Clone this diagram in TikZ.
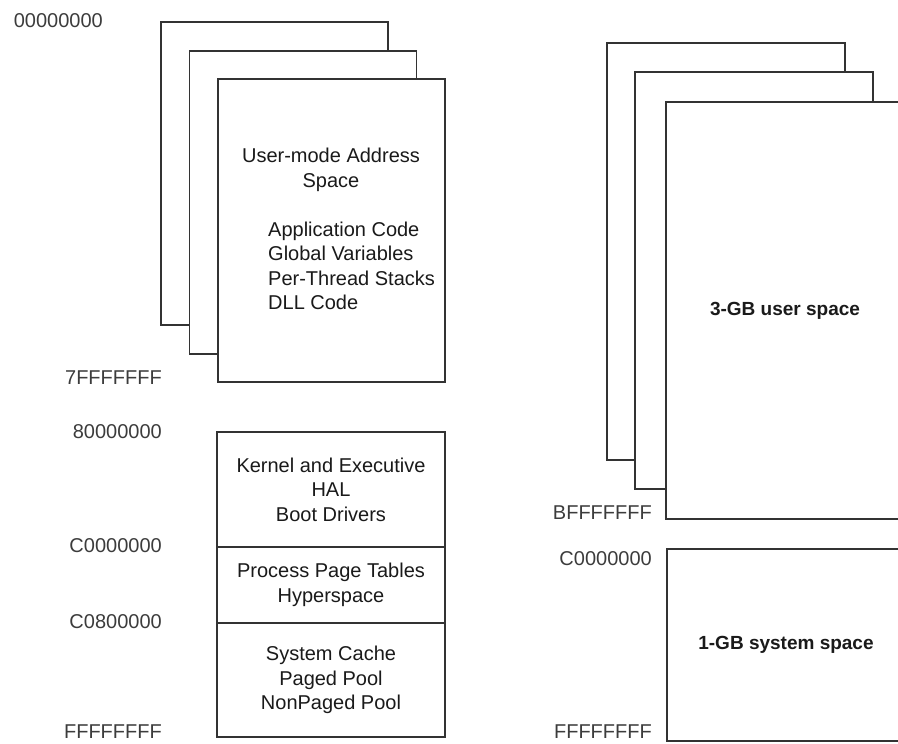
\documentclass[tikz,border=0pt]{standalone}
\usepackage{fontspec}
\setmainfont{Liberation Sans}
\usetikzlibrary{positioning}
\definecolor{edgegray}{HTML}{333333}
\definecolor{addrgray}{HTML}{3C3C3C}
\definecolor{textgray}{HTML}{1A1A1A}
\tikzset{
  page/.style={draw=edgegray, line width=1.8pt, fill=white, inner sep=0pt, outer sep=0pt, align=center, text=textgray, font=\fontsize{20}{24.5}\selectfont},
  lpage/.style={page, minimum width=227pt, minimum height=303pt},
  rpage/.style={page, minimum width=238pt, minimum height=417pt, font=\fontsize{19}{23}\selectfont\bfseries},
  band/.style={page, minimum width=228pt},
  boxtext/.style={inner sep=0pt, text=textgray, font=\fontsize{20}{24.5}\selectfont},
  addr/.style={inner sep=0pt, anchor=east, text=addrgray, font=\fontsize{20}{24}\selectfont}
}
\begin{document}
\begin{tikzpicture}[x=1pt, y=-1pt]
  \useasboundingbox (0,0) rectangle (898,744);
  \clip (0,0) rectangle (898,744);
  % user-mode address space, one page per process
  \node[lpage, anchor=north west] (lback) at (161,22) {};
  \node[lpage, below right=29pt and 28.5pt of lback.north west] (lmid) {};
  \node[lpage, below right=28pt and 28.5pt of lmid.north west] (lfront) {};
  \node[boxtext, align=center] (utitle) at (331,170) {User-mode Address\\Space};
  \node[boxtext, align=left, anchor=west] (ulist) at (268,266) {Application Code\\Global Variables\\Per-Thread Stacks\\DLL Code};

  % system address space
  \node[band, minimum height=115pt, anchor=north west] (kernel) at (217,432) {Kernel and Executive\\HAL\\Boot Drivers};
  \node[band, minimum height=76pt, below=0pt of kernel] (ptables) {Process Page Tables\\Hyperspace};
  \node[band, minimum height=114pt, below=0pt of ptables] (cache) {System Cache\\Paged Pool\\NonPaged Pool};

  % left address labels
  \node[addr] (a0) at (103,21) {00000000};
  \node[addr] (a7f) at (162,378) {7FFFFFFF};
  \node[addr] (a80) at (162,432) {80000000};
  \node[addr] (ac0) at (162,546) {C0000000};
  \node[addr] (ac08) at (162,622) {C0800000};
  \node[addr] (aff) at (162,732) {FFFFFFFF};

  % 3-GB layout (right)
  \node[rpage, anchor=north west] (rback) at (607,43) {};
  \node[rpage, below right=29pt and 28pt of rback.north west] (rmid) {};
  \node[rpage, below right=30pt and 31pt of rmid.north west] (rfront) {3-GB user space};
  \node[rpage, minimum height=192pt, anchor=north west] (rsys) at (667,549) {1-GB system space};

  % right address labels
  \node[addr] (rbf) at (652,513) {BFFFFFFF};
  \node[addr] (rc0) at (652,559) {C0000000};
  \node[addr] (rff) at (652,732) {FFFFFFFF};
\end{tikzpicture}
\end{document}
